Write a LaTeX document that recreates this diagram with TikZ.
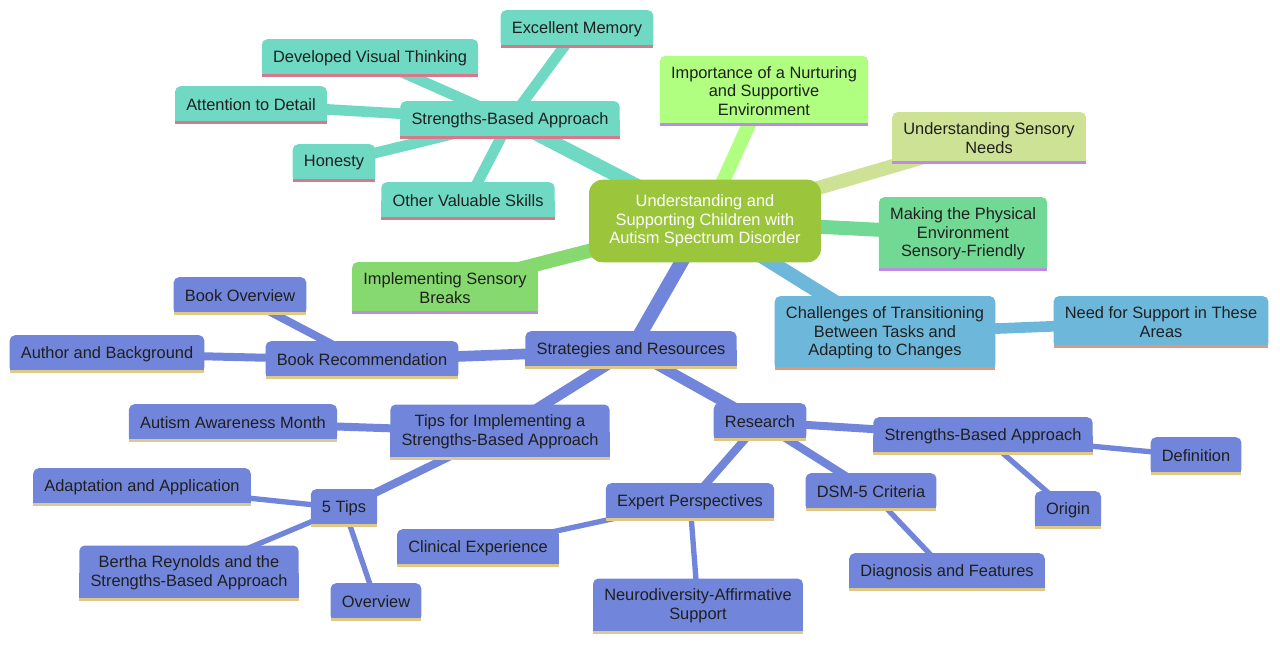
\documentclass[tikz,border=0pt]{standalone}
\usepackage{fontspec}
\setmainfont{Liberation Sans}
\pgfdeclarelayer{edges}
\pgfdeclarelayer{boxes}
\pgfsetlayers{edges,boxes,main}
\definecolor{mmroot}{HTML}{9BC63B}
\definecolor{mmteal}{HTML}{6FD9C4}
\definecolor{mmpink}{HTML}{D6798C}
\definecolor{mmlime}{HTML}{B0FF80}
\definecolor{mmpale}{HTML}{CDE295}
\definecolor{mmgreen}{HTML}{72D995}
\definecolor{mmleaf}{HTML}{86D96E}
\definecolor{mmpurple}{HTML}{BE8AE6}
\definecolor{mmsky}{HTML}{6DB8DA}
\definecolor{mmorange}{HTML}{E0987A}
\definecolor{mmblue}{HTML}{7185DB}
\definecolor{mmtan}{HTML}{DEC98A}
\begin{document}
\begin{tikzpicture}[x=0.75pt,y=-0.75pt,
	leaf/.style={font=\fontsize{12.3}{14}\selectfont, align=center, inner xsep=8.2pt,
		inner ysep=7.7pt, minimum height=27.75pt, text=black!88},
	root/.style={leaf, text=white, inner xsep=15pt, minimum height=61.5pt}]
	\useasboundingbox (0,0) rectangle (1280,644);

	\node[root] (center) at (705,221) {Understanding and\\Supporting Children with\\Autism Spectrum Disorder};

	% strengths
	\node[leaf] (sba) at (510,120) {Strengths-Based Approach};
	\node[leaf] (memory) at (577,29) {Excellent Memory};
	\node[leaf] (visual) at (370,58) {Developed Visual Thinking};
	\node[leaf] (detail) at (251,105) {Attention to Detail};
	\node[leaf] (honesty) at (334,163) {Honesty};
	\node[leaf] (skills) at (468,201) {Other Valuable Skills};

	% sensory side
	\node[leaf] (nurture) at (764,91) {Importance of a Nurturing\\and Supportive\\Environment};
	\node[leaf] (needs) at (989,138) {Understanding Sensory\\Needs};
	\node[leaf] (physical) at (963,234) {Making the Physical\\Environment\\Sensory-Friendly};
	\node[leaf] (breaks) at (445,288) {Implementing Sensory\\Breaks};
	\node[leaf] (transition) at (885,333) {Challenges of Transitioning\\Between Tasks and\\Adapting to Changes};
	\node[leaf] (support) at (1161,322) {Need for Support in These\\Areas};

	% strategies
	\node[leaf] (strategies) at (631,350) {Strategies and Resources};
	\node[leaf] (bookrec) at (362,360) {Book Recommendation};
	\node[leaf] (bookview) at (240,296) {Book Overview};
	\node[leaf] (author) at (107,354) {Author and Background};
	\node[leaf] (tips) at (500,432) {Tips for Implementing a\\Strengths-Based Approach};
	\node[leaf] (month) at (233,423) {Autism Awareness Month};
	\node[leaf] (fivetips) at (344,508) {5 Tips};
	\node[leaf] (adapt) at (142,487) {Adaptation and Application};
	\node[leaf] (bertha) at (189,573) {Bertha Reynolds and the\\Strengths-Based Approach};
	\node[leaf] (overview) at (376,602) {Overview};
	\node[leaf] (research) at (760,422) {Research};
	\node[leaf] (sbares) at (983,436) {Strengths-Based Approach};
	\node[leaf] (definition) at (1196,456) {Definition};
	\node[leaf] (origin) at (1068,510) {Origin};
	\node[leaf] (dsm) at (871,492) {DSM-5 Criteria};
	\node[leaf] (diagnosis) at (947,572) {Diagnosis and Features};
	\node[leaf] (expert) at (690,502) {Expert Perspectives};
	\node[leaf] (clinical) at (478,548) {Clinical Experience};
	\node[leaf] (neuro) at (698,606) {Neurodiversity-Affirmative\\Support};

	\begin{pgfonlayer}{boxes}
		\fill[mmroot, rounded corners=10pt] (center.south west) rectangle (center.north east);
		\foreach \n/\f/\u in {sba/mmteal/mmpink, memory/mmteal/mmpink, visual/mmteal/mmpink,
			detail/mmteal/mmpink, honesty/mmteal/mmpink, skills/mmteal/mmpink,
			nurture/mmlime/mmpurple, needs/mmpale/mmpurple, physical/mmgreen/mmpurple,
			breaks/mmleaf/mmpurple, transition/mmsky/mmorange, support/mmsky/mmorange,
			strategies/mmblue/mmtan, bookrec/mmblue/mmtan, bookview/mmblue/mmtan,
			author/mmblue/mmtan, tips/mmblue/mmtan, month/mmblue/mmtan,
			fivetips/mmblue/mmtan, adapt/mmblue/mmtan, bertha/mmblue/mmtan,
			overview/mmblue/mmtan, research/mmblue/mmtan, sbares/mmblue/mmtan,
			definition/mmblue/mmtan, origin/mmblue/mmtan, dsm/mmblue/mmtan,
			diagnosis/mmblue/mmtan, expert/mmblue/mmtan, clinical/mmblue/mmtan,
			neuro/mmblue/mmtan} {
			\fill[\f, rounded corners=4pt] (\n.south west) rectangle (\n.north east);
			\fill[\f] (\n.west) rectangle (\n.south east);
			\fill[\u] (\n.south west) rectangle ([yshift=2.25pt]\n.south east);
		}
	\end{pgfonlayer}

	\begin{pgfonlayer}{edges}
		\foreach \a/\b/\w/\c in {center/sba/10.5pt/mmteal, sba/memory/8pt/mmteal,
			sba/visual/8pt/mmteal, sba/detail/8pt/mmteal, sba/honesty/8pt/mmteal,
			sba/skills/8pt/mmteal, center/nurture/10.5pt/mmlime, center/needs/10.5pt/mmpale,
			center/physical/10.5pt/mmgreen, center/breaks/10.5pt/mmleaf,
			center/transition/10.5pt/mmsky, transition/support/8pt/mmsky,
			center/strategies/10.5pt/mmblue, strategies/bookrec/8pt/mmblue,
			bookrec/bookview/6pt/mmblue, bookrec/author/6pt/mmblue,
			strategies/tips/8pt/mmblue, tips/month/6pt/mmblue, tips/fivetips/6pt/mmblue,
			fivetips/adapt/4pt/mmblue, fivetips/bertha/4pt/mmblue, fivetips/overview/4pt/mmblue,
			strategies/research/8pt/mmblue, research/sbares/6pt/mmblue,
			sbares/definition/4pt/mmblue, sbares/origin/4pt/mmblue, research/dsm/6pt/mmblue,
			dsm/diagnosis/4pt/mmblue, research/expert/6pt/mmblue,
			expert/clinical/4pt/mmblue, expert/neuro/4pt/mmblue}
			\draw[\c, line width=\w] (\a.center) -- (\b.center);
	\end{pgfonlayer}
\end{tikzpicture}
\end{document}
